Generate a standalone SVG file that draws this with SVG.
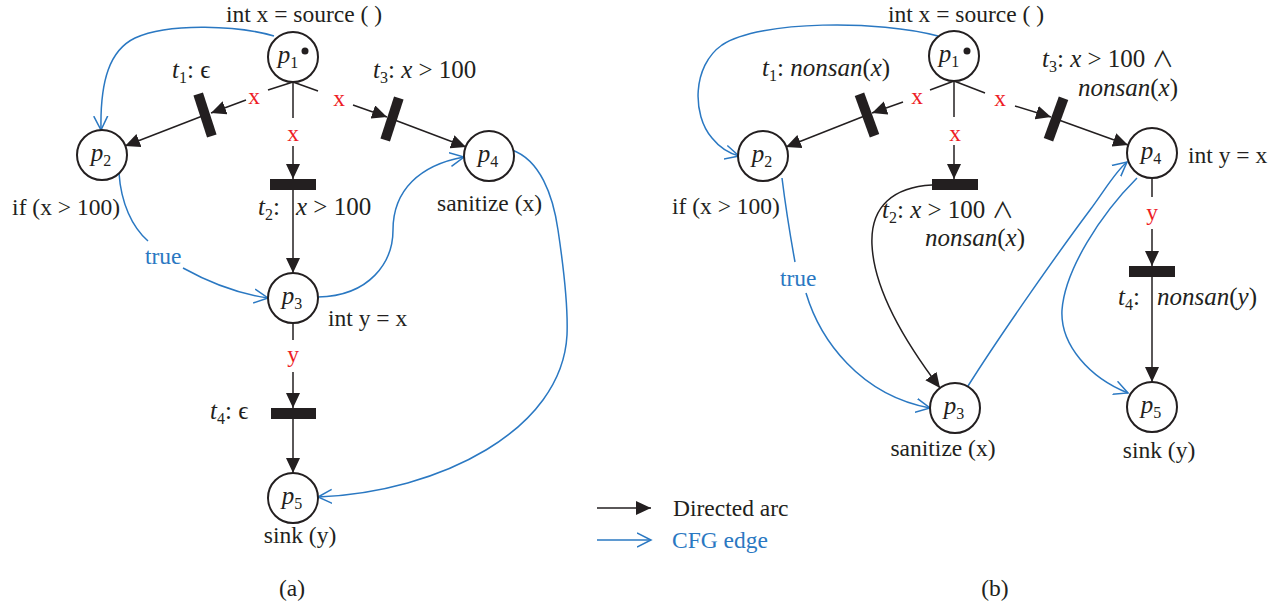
<svg xmlns="http://www.w3.org/2000/svg" width="1284" height="609" viewBox="0 0 1284 609">
<style>
.pl{fill:#fff;stroke:#231f20;stroke-width:2}
.tok{fill:#231f20}
.tr{fill:#231f20}
.txt{font-family:"Liberation Serif","Times New Roman",serif;font-size:23.5px;fill:#231f20}
.m{font-family:"Liberation Serif","DejaVu Serif",serif;font-size:25px;fill:#231f20}
.i{font-style:italic}
.sub{font-size:16px}
.and{font-family:"Noto Sans CJK SC","DejaVu Sans",sans-serif;font-size:22px}
.red{font-family:"Liberation Serif",serif;font-size:23.5px;fill:#ee1c25}
.blue{font-family:"Liberation Serif",serif;font-size:23.5px;fill:#2a78c2}
.arc{fill:none;stroke:#231f20;stroke-width:1.5}
.arcA{fill:none;stroke:#231f20;stroke-width:1.5;marker-end:url(#ah)}
.cfg{fill:none;stroke:#2a78c2;stroke-width:1.5}
.cfgA{fill:none;stroke:#2a78c2;stroke-width:1.5;marker-end:url(#oh)}
</style>
<defs>
<marker id="ah" markerUnits="userSpaceOnUse" markerWidth="16" markerHeight="14" refX="15" refY="7" orient="auto"><path d="M0,0 L15,7 L0,14 z" fill="#231f20"/></marker>
<marker id="oh" markerUnits="userSpaceOnUse" markerWidth="16" markerHeight="16" refX="14" refY="8" orient="auto"><path d="M0,1 L14,8 L0,15" fill="none" stroke="#2a78c2" stroke-width="1.5"/></marker>
</defs>
<rect width="1284" height="609" fill="#fff"/>

<g id="connectors">
<!-- (a) directed arcs -->
<path class="arc" d="M293,82 L268,90"/>
<path class="arcA" d="M246,100 L211,113"/>
<path class="arcA" d="M205,115 L125,146"/>
<path class="arc" d="M293,82 L293,118"/>
<path class="arcA" d="M293,146 L293,179"/>
<path class="arcA" d="M293,190 L293,273"/>
<path class="arc" d="M293,82 L318,91"/>
<path class="arcA" d="M353,105 L387,117"/>
<path class="arcA" d="M392,119 L466,147"/>
<path class="arc" d="M293,323 L293,340"/>
<path class="arcA" d="M293,372 L293,408"/>
<path class="arcA" d="M293,419 L293,473"/>
<!-- (a) CFG edges -->
<path class="cfgA" d="M274,36 C240,26 170,22 135,38 C110,50 100,80 101,130"/>
<path class="cfg" d="M119,173 C121,203 132,227 148,241"/>
<path class="cfgA" d="M183,268 C210,283 240,294 268,298"/>
<path class="cfgA" d="M318,297 C370,296 393,262 393,230 C393,190 420,165 464,157"/>
<path class="cfgA" d="M512,150 C540,160 553,195 558,230 C564,270 568,310 567,335 C562,430 440,492 318,497"/>
<!-- (b) directed arcs -->
<path class="arc" d="M954,81 L930,90"/>
<path class="arcA" d="M903,102 L872,113"/>
<path class="arcA" d="M867,115 L786,147"/>
<path class="arc" d="M954,81 L954,117"/>
<path class="arcA" d="M954,145 L954,179"/>
<path class="arcA" d="M932,185 C895,187 870,205 872,245 C874,290 905,342 940,388"/>
<path class="arc" d="M954,81 L985,93"/>
<path class="arcA" d="M1015,106 L1051,117"/>
<path class="arcA" d="M1056,119 L1128,145"/>
<path class="arc" d="M1152,178 L1152,197"/>
<path class="arcA" d="M1152,229 L1152,266"/>
<path class="arcA" d="M1152,277 L1152,382"/>
<!-- (b) CFG edges -->
<path class="cfgA" d="M938,36 C880,20 760,20 722,45 C692,66 692,115 712,138 C720,148 728,153 739,156"/>
<path class="cfg" d="M782,178 C786,210 791,240 795,262"/>
<path class="cfgA" d="M806,293 C820,340 860,395 930,408"/>
<path class="cfgA" d="M968,386 C1000,335 1060,250 1090,210 C1105,190 1115,172 1127,162"/>
<path class="cfgA" d="M1137,178 C1100,215 1065,270 1062,310 C1060,345 1090,378 1128,393"/>
<!-- legend -->
<path class="arcA" d="M597,508 L651,508"/>
<path class="cfgA" d="M597,540 L651,540"/>
</g>

<g id="arc-labels">
<text class="red" x="254" y="104" text-anchor="middle">x</text>
<text class="red" x="293" y="141" text-anchor="middle">x</text>
<text class="red" x="339" y="106" text-anchor="middle">x</text>
<text class="red" x="293" y="362" text-anchor="middle">y</text>
<text class="blue" x="145" y="264">true</text>
<text class="red" x="917" y="104" text-anchor="middle">x</text>
<text class="red" x="955" y="141" text-anchor="middle">x</text>
<text class="red" x="1000" y="106" text-anchor="middle">x</text>
<text class="red" x="1152" y="220" text-anchor="middle">y</text>
<text class="blue" x="780" y="286">true</text>
</g>

<!-- (a) -->
<g id="a-p1">
<circle class="pl" cx="293" cy="57" r="25"/>
<circle class="tok" cx="305" cy="51" r="3.5"/>
<text class="m" x="288" y="63" text-anchor="middle"><tspan class="i">p</tspan><tspan class="sub" dy="5">1</tspan></text>
<text class="txt" x="304" y="22" text-anchor="middle">int x = source ( )</text>
</g>
<g id="a-p2">
<circle class="pl" cx="102" cy="155" r="25"/>
<text class="m" x="101" y="161" text-anchor="middle"><tspan class="i">p</tspan><tspan class="sub" dy="5">2</tspan></text>
<text class="txt" x="120" y="215" text-anchor="end">if (x &gt; 100)</text>
</g>
<g id="a-p3">
<circle class="pl" cx="293" cy="298" r="25"/>
<text class="m" x="292" y="304" text-anchor="middle"><tspan class="i">p</tspan><tspan class="sub" dy="5">3</tspan></text>
<text class="txt" x="328" y="326">int y = x</text>
</g>
<g id="a-p4">
<circle class="pl" cx="489" cy="156" r="25"/>
<text class="m" x="488" y="162" text-anchor="middle"><tspan class="i">p</tspan><tspan class="sub" dy="5">4</tspan></text>
<text class="txt" x="437" y="211">sanitize (x)</text>
</g>
<g id="a-p5">
<circle class="pl" cx="293" cy="498" r="25"/>
<text class="m" x="292" y="504" text-anchor="middle"><tspan class="i">p</tspan><tspan class="sub" dy="5">5</tspan></text>
<text class="txt" x="300" y="543" text-anchor="middle">sink (y)</text>
</g>
<g id="a-t1">
<rect class="tr" x="-5" y="-22" width="10" height="44" transform="translate(205,115) rotate(-18)"/>
<text class="m" x="172" y="78"><tspan class="i">t</tspan><tspan class="sub" dy="5">1</tspan><tspan dy="-5">: ϵ</tspan></text>
</g>
<g id="a-t2">
<rect class="tr" x="270" y="179" width="46" height="11"/>
<text class="m" x="258" y="215"><tspan class="i">t</tspan><tspan class="sub" dy="5">2</tspan><tspan dy="-5">:</tspan></text>
<text class="m" x="296" y="215"><tspan class="i">x</tspan> &gt; 100</text>
</g>
<g id="a-t3">
<rect class="tr" x="-5" y="-22" width="10" height="44" transform="translate(392,119) rotate(18)"/>
<text class="m" x="373" y="78"><tspan class="i">t</tspan><tspan class="sub" dy="5">3</tspan><tspan dy="-5">: </tspan><tspan class="i">x</tspan> &gt; 100</text>
</g>
<g id="a-t4">
<rect class="tr" x="271" y="408" width="45" height="11"/>
<text class="m" x="210" y="419"><tspan class="i">t</tspan><tspan class="sub" dy="5">4</tspan><tspan dy="-5">: ϵ</tspan></text>
</g>
<text class="txt" x="292" y="596" text-anchor="middle">(a)</text>

<!-- (b) -->
<g id="b-p1">
<circle class="pl" cx="954" cy="56" r="25"/>
<circle class="tok" cx="967" cy="51" r="3.5"/>
<text class="m" x="949" y="62" text-anchor="middle"><tspan class="i">p</tspan><tspan class="sub" dy="5">1</tspan></text>
<text class="txt" x="966" y="22" text-anchor="middle">int x = source ( )</text>
</g>
<g id="b-p2">
<circle class="pl" cx="763" cy="156" r="25"/>
<text class="m" x="762" y="162" text-anchor="middle"><tspan class="i">p</tspan><tspan class="sub" dy="5">2</tspan></text>
<text class="txt" x="672" y="214">if (x &gt; 100)</text>
</g>
<g id="b-p3">
<circle class="pl" cx="955" cy="408" r="25"/>
<text class="m" x="954" y="414" text-anchor="middle"><tspan class="i">p</tspan><tspan class="sub" dy="5">3</tspan></text>
<text class="txt" x="943" y="456" text-anchor="middle">sanitize (x)</text>
</g>
<g id="b-p4">
<circle class="pl" cx="1152" cy="153" r="25"/>
<text class="m" x="1151" y="159" text-anchor="middle"><tspan class="i">p</tspan><tspan class="sub" dy="5">4</tspan></text>
<text class="txt" x="1188" y="163">int y = x</text>
</g>
<g id="b-p5">
<circle class="pl" cx="1152" cy="407" r="25"/>
<text class="m" x="1151" y="413" text-anchor="middle"><tspan class="i">p</tspan><tspan class="sub" dy="5">5</tspan></text>
<text class="txt" x="1159" y="458" text-anchor="middle">sink (y)</text>
</g>
<g id="b-t1">
<rect class="tr" x="-5" y="-22" width="10" height="44" transform="translate(867,115) rotate(-20)"/>
<text class="m" x="762" y="76"><tspan class="i">t</tspan><tspan class="sub" dy="5">1</tspan><tspan dy="-5">: </tspan><tspan class="i">nonsan</tspan>(<tspan class="i">x</tspan>)</text>
</g>
<g id="b-t2">
<rect class="tr" x="932" y="179" width="46" height="11"/>
<text class="m" x="882" y="218"><tspan class="i">t</tspan><tspan class="sub" dy="5">2</tspan><tspan dy="-5">: </tspan><tspan class="i">x</tspan> &gt; 100 <tspan class="and">∧</tspan></text>
<text class="m" x="925" y="246"><tspan class="i">nonsan</tspan>(<tspan class="i">x</tspan>)</text>
</g>
<g id="b-t3">
<rect class="tr" x="-5" y="-22" width="10" height="44" transform="translate(1056,119) rotate(20)"/>
<text class="m" x="1042" y="67"><tspan class="i">t</tspan><tspan class="sub" dy="5">3</tspan><tspan dy="-5">: </tspan><tspan class="i">x</tspan> &gt; 100 <tspan class="and">∧</tspan></text>
<text class="m" x="1078" y="96"><tspan class="i">nonsan</tspan>(<tspan class="i">x</tspan>)</text>
</g>
<g id="b-t4">
<rect class="tr" x="1129" y="266" width="46" height="11"/>
<text class="m" x="1118" y="305"><tspan class="i">t</tspan><tspan class="sub" dy="5">4</tspan><tspan dy="-5">:</tspan></text>
<text class="m" x="1157" y="305"><tspan class="i">nonsan</tspan>(<tspan class="i">y</tspan>)</text>
</g>
<text class="txt" x="995" y="596" text-anchor="middle">(b)</text>

<g id="legend">
<text class="txt" x="673" y="516">Directed arc</text>
<text class="blue" x="672" y="548">CFG edge</text>
</g>
</svg>
